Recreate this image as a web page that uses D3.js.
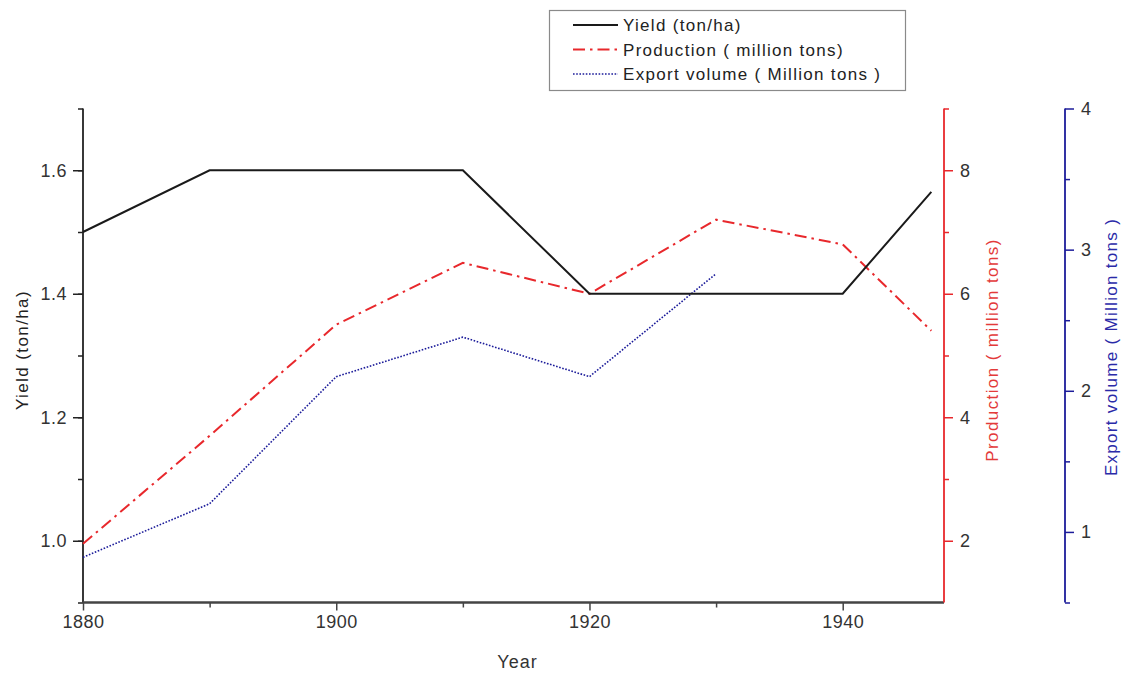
<!DOCTYPE html>
<html><head><meta charset="utf-8">
<script src="https://cdn.jsdelivr.net/npm/d3@7"></script>
<style>
body{margin:0;background:#fff;}
svg{display:block;font-family:Arial,"Liberation Sans",sans-serif;}
</style></head>
<body><svg id="c" width="1127" height="675"></svg>
<script>
const years = [1880,1890,1900,1910,1920,1930,1940,1947];
const yieldVals = [1.5,1.6,1.6,1.6,1.4,1.4,1.4,1.565];
const productionVals = [1.95,3.7,5.5,6.5,6.0,7.2,6.8,5.4];
const exportYears = [1880,1890,1900,1910,1920,1930];
const exportVals = [0.82,1.2,2.1,2.38,2.1,2.83];
const xTicks = [1880,1900,1920,1940];
const yieldTicks = [1.0,1.2,1.4,1.6];
const prodTicks = [2,4,6,8];
const exportTicks = [1,2,3,4];
const seriesNames = ["Yield (ton/ha)","Production ( million tons)","Export volume ( Million tons )"];

const svg = d3.select("#c");
const L=83, R=944, T=108.5, B=602.5;
const RED="#e8282c", BLUE="#1c1c9a", REDTXT="#e33a3a", BLUETXT="#2a2aa8";

const x = d3.scaleLinear().domain([1880,1948]).range([L,R]);
const yY = d3.scaleLinear().domain([0.9,1.7]).range([B,T]);
const yP = d3.scaleLinear().domain([1,9]).range([B,T]);
const yE = d3.scaleLinear().domain([0.5,4]).range([B,T]);
const BX = 1065;

function styleAxis(g,color){
  g.selectAll("path.domain").remove();
  g.selectAll("text").attr("font-size",18).attr("fill","#333").style("letter-spacing","0.5px");
  g.selectAll("line").attr("stroke",color).attr("stroke-width",1.5);
}

// left axis
const gl = svg.append("g").attr("transform",`translate(${L},0)`);
gl.call(d3.axisLeft(yY).tickValues(d3.range(9).map(i=>+(0.9+i*0.1).toFixed(1))).tickSize(5).tickFormat(""));
gl.call(g=>g.selectAll("path.domain").remove());
gl.selectAll("line").attr("stroke","#222").attr("stroke-width",1.5);
const gl2 = svg.append("g").attr("transform",`translate(${L},0)`);
gl2.call(d3.axisLeft(yY).tickValues(yieldTicks).tickSize(10).tickPadding(6).tickFormat(d3.format(".1f")));
styleAxis(gl2,"#222");
svg.append("line").attr("x1",L).attr("x2",L).attr("y1",T).attr("y2",B).attr("stroke","#222").attr("stroke-width",1.8);

// bottom axis
const gb = svg.append("g").attr("transform",`translate(0,${B})`);
gb.call(d3.axisBottom(x).tickValues([1890,1910,1930]).tickSize(5).tickFormat(""));
gb.call(g=>g.selectAll("path.domain").remove());
gb.selectAll("line").attr("stroke","#444").attr("stroke-width",1.5);
const gb2 = svg.append("g").attr("transform",`translate(0,${B})`);
gb2.call(d3.axisBottom(x).tickValues(xTicks).tickSize(8).tickPadding(5).tickFormat(d3.format("d")));
styleAxis(gb2,"#444");

// red axis
const gr = svg.append("g").attr("transform",`translate(${R},0)`);
gr.call(d3.axisRight(yP).tickValues([3,5,7,9]).tickSize(5).tickFormat(""));
gr.call(g=>g.selectAll("path.domain").remove());
gr.selectAll("line").attr("stroke",RED).attr("stroke-width",1.5);
const gr2 = svg.append("g").attr("transform",`translate(${R},0)`);
gr2.call(d3.axisRight(yP).tickValues(prodTicks).tickSize(9).tickPadding(7).tickFormat(d3.format("d")));
styleAxis(gr2,RED);

// blue axis
const ge = svg.append("g").attr("transform",`translate(${BX},0)`);
ge.call(d3.axisRight(yE).tickValues([0.5,1.5,2.5,3.5]).tickSize(5).tickFormat(""));
ge.call(g=>g.selectAll("path.domain").remove());
ge.selectAll("line").attr("stroke",BLUE).attr("stroke-width",1.5);
const ge2 = svg.append("g").attr("transform",`translate(${BX},0)`);
ge2.call(d3.axisRight(yE).tickValues(exportTicks).tickSize(9).tickPadding(7).tickFormat(d3.format("d")));
styleAxis(ge2,BLUE);
svg.append("line").attr("x1",BX).attr("x2",BX).attr("y1",T).attr("y2",B).attr("stroke",BLUE).attr("stroke-width",1.8);

// series
const lY = d3.line().x((d,i)=>x(years[i])).y(d=>yY(d));
const lP = d3.line().x((d,i)=>x(years[i])).y(d=>yP(d));
const lE = d3.line().x((d,i)=>x(exportYears[i])).y(d=>yE(d));
svg.append("path").attr("d",lE(exportVals)).attr("fill","none").attr("stroke",BLUE).attr("stroke-width",1.6).attr("stroke-dasharray","1.6,1.6");
svg.append("path").attr("d",lP(productionVals)).attr("fill","none").attr("stroke",RED).attr("stroke-width",2).attr("stroke-dasharray","12,5,2.5,5");
svg.append("path").attr("d",lY(yieldVals)).attr("fill","none").attr("stroke","#1a1a1a").attr("stroke-width",2);

// axis lines on top
svg.append("line").attr("x1",L).attr("x2",R).attr("y1",B).attr("y2",B).attr("stroke","#444").attr("stroke-width",2.5);
svg.append("line").attr("x1",R).attr("x2",R).attr("y1",T).attr("y2",B).attr("stroke",RED).attr("stroke-width",1.8);

// axis titles
const titleLS = "1.4px";
svg.append("text").attr("transform",`translate(28,350) rotate(-90)`).attr("text-anchor","middle")
  .attr("font-size",17).style("letter-spacing",titleLS).attr("fill","#222").text("Yield (ton/ha)");
svg.append("text").attr("transform",`translate(998,350) rotate(-90)`).attr("text-anchor","middle")
  .attr("font-size",17).style("letter-spacing",titleLS).attr("fill",REDTXT).text("Production ( million tons)");
svg.append("text").attr("transform",`translate(1117,347) rotate(-90)`).attr("text-anchor","middle")
  .attr("font-size",17).style("letter-spacing","1.3px").attr("fill",BLUETXT).text("Export volume ( Million tons )");
svg.append("text").attr("x",(L+R)/2+4).attr("y",668).attr("text-anchor","middle")
  .attr("font-size",18).style("letter-spacing","1px").attr("fill","#333").text("Year");

// legend
const lg = svg.append("g");
lg.append("rect").attr("x",549.5).attr("y",10.5).attr("width",356).attr("height",80)
  .attr("fill","#fff").attr("stroke","#8a8a8a").attr("stroke-width",1.2);
const legStyles = [
  {c:"#1a1a1a",w:2,da:null},
  {c:RED,w:2,da:"12,5,2.5,5"},
  {c:BLUE,w:1.6,da:"1.6,1.6"}
];
seriesNames.forEach((n,i)=>{
  const yy = 25 + i*24.5;
  const s = legStyles[i];
  const ln = lg.append("line").attr("x1",573).attr("x2",618).attr("y1",yy).attr("y2",yy)
    .attr("stroke",s.c).attr("stroke-width",s.w);
  if(s.da) ln.attr("stroke-dasharray",s.da);
  lg.append("text").attr("x",623).attr("y",yy+6).attr("font-size",17).attr("fill","#222")
    .style("letter-spacing","1.3px").text(n);
});
</script></body></html>
